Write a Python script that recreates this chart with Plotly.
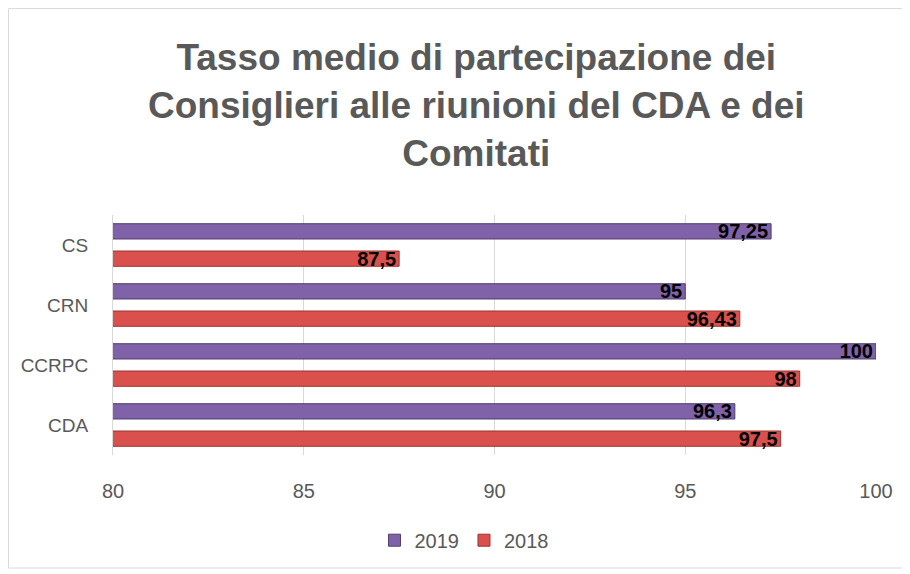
import plotly.graph_objects as go

# Chart data
categories = ["CDA", "CCRPC", "CRN", "CS"]
values_2019 = [96.3, 100, 95, 97.25]
values_2018 = [97.5, 98, 96.43, 87.5]
title_text = "Tasso medio di partecipazione dei<br>Consiglieri alle riunioni del CDA e dei<br>Comitati"

PURPLE = "#7f62a8"
RED = "#d9504c"
GREY_TEXT = "#595959"
LABEL_FONT = dict(family="Liberation Sans", size=20, color="black", weight="bold")

fig = go.Figure()

# 2018 first so it sits below 2019 inside each group
fig.add_trace(
    go.Bar(
        y=categories,
        x=values_2018,
        name="2018",
        orientation="h",
        marker=dict(color=RED, line=dict(color="#9e3330", width=1)),
        texttemplate="%{x}",
        textposition="inside",
        insidetextanchor="end",
        textfont=LABEL_FONT,
        legendrank=2,
    )
)
fig.add_trace(
    go.Bar(
        y=categories,
        x=values_2019,
        name="2019",
        orientation="h",
        marker=dict(color=PURPLE, line=dict(color="#503d6e", width=1)),
        texttemplate="%{x}",
        textposition="inside",
        insidetextanchor="end",
        textfont=LABEL_FONT,
        legendrank=1,
    )
)

fig.update_layout(
    width=902,
    height=566,
    separators=",.",
    barmode="group",
    bargap=0.09,
    bargroupgap=0.44,
    uniformtext=dict(minsize=20, mode="show"),
    paper_bgcolor="white",
    plot_bgcolor="white",
    font=dict(family="Liberation Sans", color=GREY_TEXT, size=18),
    margin=dict(l=105, r=34, t=207, b=119),
    showlegend=True,
    legend=dict(
        orientation="h",
        x=0.46,
        xanchor="center",
        y=-0.355,
        yanchor="middle",
        font=dict(size=20, color=GREY_TEXT),
    ),
    xaxis=dict(
        range=[80, 100],
        tickvals=[80, 85, 90, 95, 100],
        tickfont=dict(size=20),
        showgrid=True,
        gridcolor="#d9d9d9",
        gridwidth=1,
        zeroline=False,
        showline=False,
        ticks="",
        ticklabelstandoff=22,
        automargin=False,
    ),
    yaxis=dict(
        showline=True,
        linecolor="#d9d9d9",
        showgrid=False,
        ticks="",
        tickfont=dict(size=19),
        ticklabelstandoff=20,
        automargin=False,
    ),
    annotations=[
        dict(
            text=title_text,
            xref="paper",
            yref="paper",
            x=0.477,
            y=1.455,
            xanchor="center",
            yanchor="middle",
            showarrow=False,
            align="center",
            font=dict(family="Liberation Sans", size=37, color=GREY_TEXT, weight="bold"),
        )
    ],
    shapes=[
        dict(
            type="rect",
            xref="paper",
            yref="paper",
            x0=-0.137,
            x1=1.038,
            y0=-0.471,
            y1=1.86,
            line=dict(color="#d9d9d9", width=1),
        )
    ],
)

fig.write_html("out.html")
